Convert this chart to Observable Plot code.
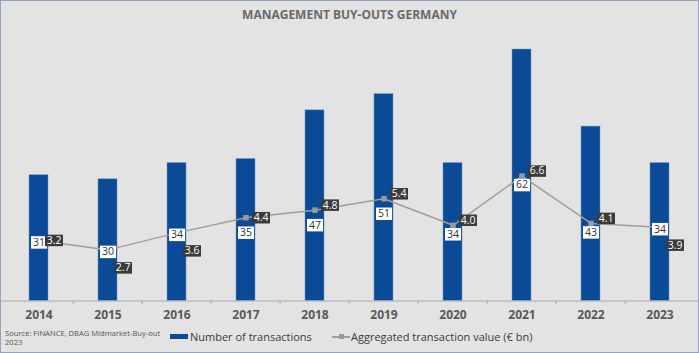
<!DOCTYPE html>
<html>
<head>
<meta charset="utf-8">
<script src="https://cdn.jsdelivr.net/npm/d3@7"></script>
<script src="https://cdn.jsdelivr.net/npm/@observablehq/plot@0.6"></script>
<style>
  html, body { margin: 0; padding: 0; background: #e3e3e3; }
  #frame {
    position: relative; width: 699px; height: 353px; box-sizing: border-box;
    border: 1px solid #8ea3c1; background: #e3e3e3; overflow: hidden;
    font-family: "Open Sans", sans-serif;
  }
  #title {
    position: absolute; left: 0; top: 0; width: 697px; height: 28px;
    text-align: center; line-height: 28px; font-size: 12px; font-weight: 700; color: #6a6a6a;
  }
  #chart { position: absolute; left: 0; top: 27px; }
  #source {
    position: absolute; left: 4px; top: 328px; font-size: 7.6px; line-height: 9px; color: #555;
  }
  .leg { position: absolute; font-size: 11px; color: #3a3a3a; white-space: nowrap; line-height: 14px; }
  .sw { position: absolute; }
</style>
</head>
<body>
<div id="frame">
  <div id="title">MANAGEMENT BUY-OUTS GERMANY</div>
  <div id="chart"></div>
  <div id="source">Source: FINANCE, DBAG Midmarket-Buy-out<br>2023</div>
  <div class="sw" style="left:169px; top:333px; width:18px; height:4.5px; background:#0b4a97;"></div>
  <div class="leg" style="left:189px; top:329px;">Number of transactions</div>
  <div class="sw" style="left:331px; top:335px; width:18px; height:1.5px; background:#a39d95;"></div>
  <div class="sw" style="left:337.5px; top:333.3px; width:5px; height:5px; background:#9a9a9a;"></div>
  <div class="leg" style="left:350px; top:329px;">Aggregated transaction value (€ bn)</div>
</div>
<script>
// ---- data ----
const years = ["2014", "2015", "2016", "2017", "2018", "2019", "2020", "2021", "2022", "2023"];
const transactions = [31, 30, 34, 35, 47, 51, 34, 62, 43, 34];
const values = [3.2, 2.7, 3.6, 4.4, 4.8, 5.4, 4.0, 6.6, 4.1, 3.9];
const valueLabelPlace = ["right", "below", "below", "right", "above", "above", "above", "above", "above", "below"];
const countLabelPlace = ["on", "on", "on", "under", "under", "under", "near", "near", "near", "on"];

// axis maxima (primary: number of transactions, secondary: € bn)
const yMax = 70, y2Max = 15;
const k = yMax / y2Max; // secondary -> primary units

const rows = years.map((year, i) => ({
  year, count: transactions[i], value: values[i],
  vPlace: valueLabelPlace[i], cPlace: countLabelPlace[i]
}));

const vDy = {right: 0, above: -5, below: 18};
const cDy = {on: 2, near: 9, under: 15};

const W = 697, H = 295, MB = 22.5;
const plotH = H - MB;            // baseline in svg coords
const pxPerUnit = 4.056;
const MT = plotH - yMax * pxPerUnit;
const step = W / years.length;

const box = (w, h) => ({draw(ctx) { ctx.rect(-w / 2, -h / 2, w, h); }});
const yv = d => d.value * k;

const countLabels = Object.entries(cDy).flatMap(([place, dy]) => {
  const sub = rows.filter(d => d.cPlace === place);
  return [
    Plot.dot(sub, {x: "year", y: yv, dy, symbol: box(16, 12.5), r: 1, fill: "white", stroke: "none"}),
    Plot.text(sub, {x: "year", y: yv, dy, text: d => String(d.count), fontSize: 10.5, fill: "#333"})
  ];
});
const valueLabels = Object.entries(vDy).flatMap(([place, dy]) => {
  const sub = rows.filter(d => d.vPlace === place);
  return [
    Plot.dot(sub, {x: "year", y: yv, dx: 15, dy, symbol: box(18, 11.5), r: 1, fill: "#3b3b3b", stroke: "none"}),
    Plot.text(sub, {x: "year", y: yv, dx: 15, dy, text: d => d.value.toFixed(1), fontSize: 10.5, fill: "white"})
  ];
});

const chart = Plot.plot({
  width: W, height: H,
  marginLeft: 0, marginRight: 0, marginTop: MT, marginBottom: MB,
  style: {fontFamily: "Open Sans", background: "transparent", overflow: "visible"},
  x: {domain: years, paddingInner: 0.72, paddingOuter: 0.36, label: null},
  y: {domain: [0, yMax], axis: null},
  marks: [
    Plot.barY(rows, {x: "year", y: "count", fill: "#0b4a97", stroke: "#6f93c4", strokeWidth: 0.5}),
    Plot.ruleY([0], {stroke: "#a8a8a8", strokeWidth: 1}),
    Plot.ruleX(years.slice(1), {x: d => d, dx: -step / 2, y1: 0, y2: -4 / pxPerUnit, stroke: "#a8a8a8"}),
    Plot.axisX({tickSize: 0, tickPadding: 9, fontSize: 12, fontWeight: "bold", color: "#595959", label: null}),
    Plot.line(rows, {x: "year", y: yv, stroke: "#a39d95", strokeWidth: 1.5}),
    Plot.dot(rows, {x: "year", y: yv, symbol: "square", r: 3.1, fill: "#9a9a9a", stroke: "none"}),
    ...countLabels,
    ...valueLabels
  ]
});
document.getElementById("chart").appendChild(chart);
</script>
</body>
</html>
